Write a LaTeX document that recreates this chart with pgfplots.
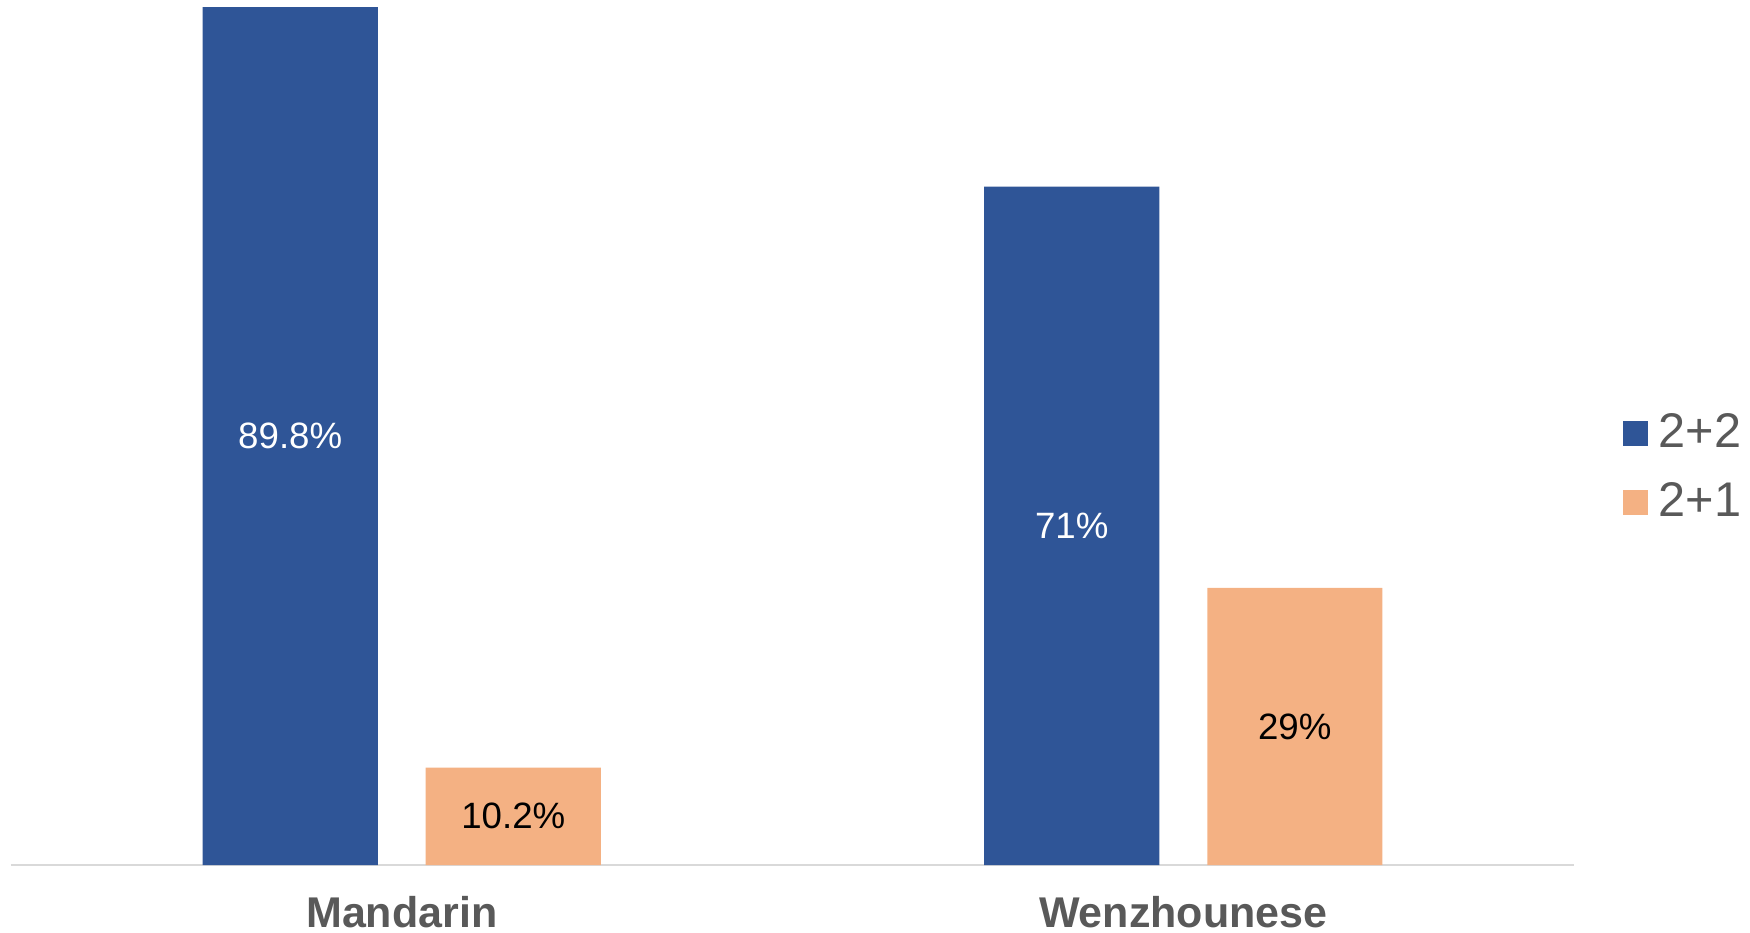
\documentclass[border=0pt]{standalone}
\usepackage{pgfplots}
\pgfplotsset{compat=1.18}
\usepackage{pgfplotstable}
\usepackage{fontspec}
\setmainfont{Liberation Sans}
\definecolor{cblue}{HTML}{2F5597}
\definecolor{corange}{HTML}{F4B183}
\definecolor{cgray}{HTML}{595959}
\definecolor{caxis}{HTML}{D9D9D9}
\pgfplotstableread{
x y
0 89.8
1 71
}\twotwo
\pgfplotstableread{
x y
0 10.2
1 29
}\twoone
\begin{document}
\begin{tikzpicture}
\begin{axis}[
  scale only axis, width=468.9pt, height=257.4pt,
  xmin=-0.5, xmax=1.5, ymin=0, ymax=89.8,
  axis y line=none, axis x line*=bottom,
  x axis line style={draw=caxis, line width=0.7pt},
  xtick={0,1}, xticklabels={Mandarin, Wenzhounese},
  xticklabel style={font=\bfseries\fontsize{12.9}{15}\selectfont, text=cgray, yshift=-6pt},
  major tick length=0pt,
  ybar, bar width=0.224,
  clip=false,
  /pgf/number format/assume math mode=true,
  visualization depends on={rawy \as \rawy},
  nodes near coords={\pgfmathprintnumber{\pgfplotspointmeta}\%},
  nodes near coords style={font=\fontsize{11}{13}\selectfont, anchor=center, shift={(axis direction cs:0,-\rawy/2)}},
  legend image code/.code={\fill[#1] (0pt,-3.75pt) rectangle (7.5pt,3.75pt);},
  legend cell align=left,
  legend style={draw=none, fill=none, at={(axis description cs:1,0.467)}, anchor=west, xshift=14.4pt, yshift=-1pt,
    inner sep=0pt, row sep=9pt,
    nodes={inner sep=0pt, text=cgray, font=\fontsize{14.6}{17}\selectfont},
    /tikz/every odd column/.append style={column sep=3.3pt}},
]
\coordinate (O) at (rel axis cs:0,0);
\addplot[fill=cblue, draw=none, bar shift=-0.1427, every node near coord/.append style={text=white}] table[x=x,y=y] {\twotwo};
\addlegendentry{2+2}
\addplot[fill=corange, draw=none, bar shift=0.1427, every node near coord/.append style={text=black}] table[x=x,y=y] {\twoone};
\addlegendentry{2+1}
\end{axis}
\pgfresetboundingbox
\path (O) ++(-3.3pt,-20.1pt) rectangle ++(525pt,279.6pt);
\end{tikzpicture}
\end{document}
